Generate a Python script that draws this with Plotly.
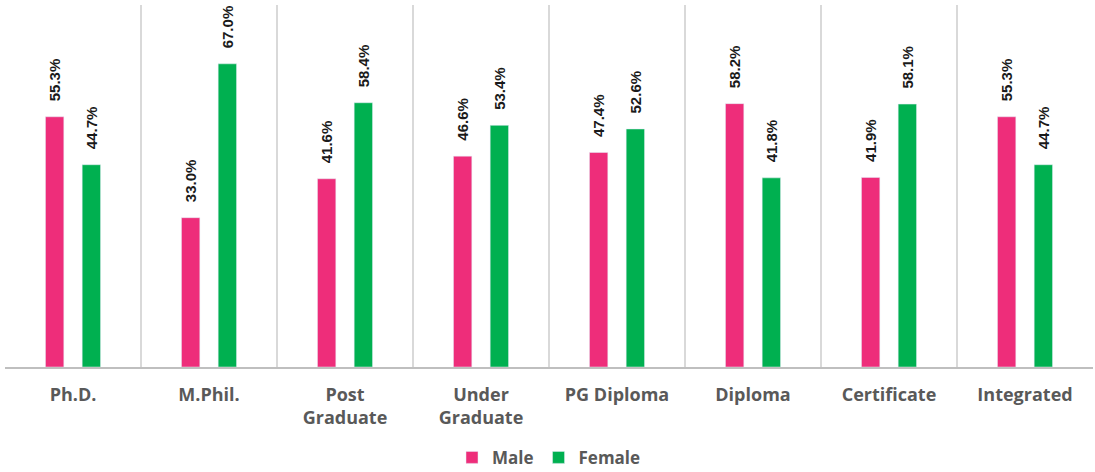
import plotly.graph_objects as go

categories = ["Ph.D.", "M.Phil.", "Post<br>Graduate", "Under<br>Graduate", "PG Diploma",
              "Diploma", "Certificate", "Integrated"]
male = [55.3, 33.0, 41.6, 46.6, 47.4, 58.2, 41.9, 55.3]
female = [44.7, 67.0, 58.4, 53.4, 52.6, 41.8, 58.1, 44.7]

LABEL_FONT = dict(family="Liberation Sans, Arial, sans-serif",
                  size=15, color="#1A1A1A", weight="bold")
PAD = "\u00a0\u00a0\u00a0"

fig = go.Figure()
fig.add_trace(go.Bar(
    x=categories, y=male, name="Male", marker_color="#EE2D7A",
    text=[f"{PAD}{v:.1f}%" for v in male], textposition="outside", textangle=-90,
    textfont=LABEL_FONT, cliponaxis=False, constraintext="none",
))
fig.add_trace(go.Bar(
    x=categories, y=female, name="Female", marker_color="#00B050",
    text=[f"{PAD}{v:.1f}%" for v in female], textposition="outside", textangle=-90,
    textfont=LABEL_FONT, cliponaxis=False, constraintext="none",
))

fig.update_layout(
    width=1095, height=472,
    barmode="group", bargap=0.46, bargroupgap=0.5,
    plot_bgcolor="white", paper_bgcolor="white",
    margin=dict(l=5, r=2, t=5, b=105, autoexpand=False),
    legend=dict(orientation="h", x=0.5, xanchor="center",
                yref="container", y=0.03, yanchor="middle",
                font=dict(family="Open Sans", size=17, color="#595959", weight="bold"),
                traceorder="normal"),
)
fig.update_xaxes(
    tickson="boundaries", showgrid=True, gridcolor="#D9D9D9", gridwidth=1.5,
    showline=True, linecolor="#BFBFBF", linewidth=2, ticks="",
    tickfont=dict(family="Open Sans", size=18, color="#595959", weight="bold"),
    ticklabelstandoff=10, automargin=False,
    range=[-0.5, 7.5],
)
fig.update_yaxes(range=[0, 80], visible=False, showgrid=False, zeroline=False)

fig.write_html("out.html", config={"displayModeBar": False},
               post_script="document.body.style.margin='0';")
